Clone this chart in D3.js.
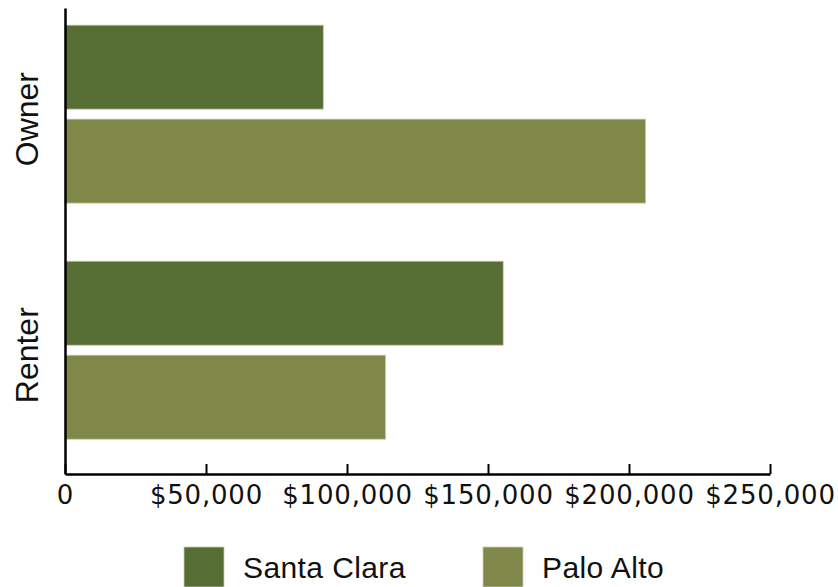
<!DOCTYPE html>
<html>
<head>
<meta charset="utf-8">
<script src="https://cdn.jsdelivr.net/npm/d3@7"></script>
<style>
  html, body { margin: 0; padding: 0; background: #fff; }
  svg { display: block; }
</style>
</head>
<body>
<svg id="chart" width="838" height="587"></svg>
<script>
// Tenure groups and the two places compared
const categories = ["Owner", "Renter"];
const seriesNames = ["Santa Clara", "Palo Alto"];
const santaClara = [91600, 155400];
const paloAlto = [205900, 113700];
const tickValues = [0, 50000, 100000, 150000, 200000, 250000];
const tickLabels = ["0", "$50,000", "$100,000", "$150,000", "$200,000", "$250,000"];
const colors = ["#566d34", "#808849"];

const rows = categories.map((c, i) => ({
  category: c,
  values: [santaClara[i], paloAlto[i]]
}));

const svg = d3.select("#chart");
const plotLeft = 65, plotRight = 770, plotTop = 8, plotBottom = 474;

const x = d3.scaleLinear().domain([0, 250000]).range([plotLeft, plotRight]);

const y = d3.scaleBand()
  .domain(categories)
  .range([plotTop, plotBottom])
  .paddingInner(0.246)
  .paddingOuter(0.11)
  .align(0.33);

const ySub = d3.scaleBand()
  .domain(seriesNames)
  .range([0, y.bandwidth()])
  .paddingInner(0.106);

// Bars
const groups = svg.append("g")
  .selectAll("g")
  .data(rows)
  .join("g")
  .attr("transform", d => `translate(0,${y(d.category)})`);

groups.selectAll("rect")
  .data(d => d.values.map((v, j) => ({ name: seriesNames[j], value: v, j })))
  .join("rect")
  .attr("x", x(0))
  .attr("y", d => ySub(d.name))
  .attr("width", d => x(d.value) - x(0))
  .attr("height", ySub.bandwidth())
  .attr("fill", d => colors[d.j])
  .attr("stroke", "#c9cdb4")
  .attr("stroke-width", 0.8);

// X axis with inward ticks
const xAxis = d3.axisBottom(x)
  .tickValues(tickValues)
  .tickFormat((d, i) => tickLabels[i])
  .tickSize(-10)
  .tickSizeOuter(0)
  .tickPadding(12);

const gx = svg.append("g")
  .attr("transform", `translate(0,${plotBottom})`)
  .call(xAxis);
gx.select(".domain").attr("stroke", "#000").attr("stroke-width", 2.5);
gx.selectAll(".tick line").attr("stroke", "#000").attr("stroke-width", 2);
gx.selectAll(".tick text")
  .attr("fill", "#111")
  .style("font-family", "'DejaVu Sans', sans-serif")
  .style("font-size", "26px")
  .style("letter-spacing", "0.8px");

// Y axis: plain line with rotated category labels
const yAxis = d3.axisLeft(y).tickSize(0).tickSizeOuter(0).tickPadding(0);
const gy = svg.append("g")
  .attr("transform", `translate(${plotLeft},0)`)
  .call(yAxis);
gy.select(".domain").attr("stroke", "#000").attr("stroke-width", 2.5);
gy.selectAll(".tick text")
  .attr("fill", "#111")
  .attr("text-anchor", "middle")
  .attr("transform", "translate(-27,5) rotate(-90)")
  .attr("x", 0)
  .attr("dy", "0")
  .style("font-family", "'Liberation Sans', Arial, sans-serif")
  .style("font-size", "32px");

// Legend
const legendX = [184, 483];
const legend = svg.append("g")
  .selectAll("g")
  .data(seriesNames)
  .join("g")
  .attr("transform", (d, i) => `translate(${legendX[i]},547)`);

legend.append("rect")
  .attr("width", 40)
  .attr("height", 40)
  .attr("fill", (d, i) => colors[i])
  .attr("stroke", "#c9cdb4")
  .attr("stroke-width", 0.8);

legend.append("text")
  .attr("x", 59)
  .attr("y", 31)
  .attr("fill", "#111")
  .style("font-family", "'Liberation Sans', Arial, sans-serif")
  .style("font-size", "30px")
  .style("letter-spacing", "0.4px")
  .text(d => d);
</script>
</body>
</html>
